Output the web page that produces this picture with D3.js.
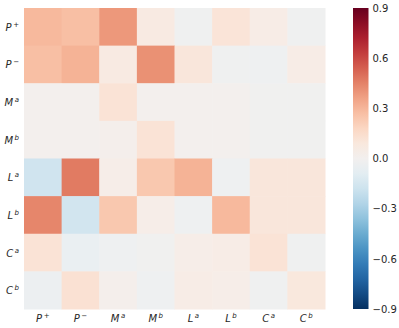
<!DOCTYPE html>
<html><head><meta charset="utf-8">
<script src="https://cdn.jsdelivr.net/npm/d3@7"></script>
<style>body{margin:0;background:#fff;} svg{display:block;}</style>
</head><body>
<svg id="c" width="399" height="328"></svg>
<script>
const labelBase = ["P","P","M","M","L","L","C","C"];
const labelSup = ["+","\u2212","a","b","a","b","a","b"];
const categories = ["P+","P-","Ma","Mb","La","Lb","Ca","Cb"];
const rowPp = [0.29, 0.27, 0.39, 0.07, -0.02, 0.11, 0.05, -0.02];
const rowPm = [0.27, 0.31, 0.07, 0.41, 0.10, -0.02, -0.03, 0.05];
const rowMa = [0.01, 0.01, 0.12, 0.01, 0.01, 0.01, -0.01, -0.01];
const rowMb = [0.01, 0.01, 0.02, 0.12, 0.01, 0.01, -0.01, -0.01];
const rowLa = [-0.17, 0.47, 0.04, 0.24, 0.31, -0.03, 0.10, 0.10];
const rowLb = [0.44, -0.16, 0.24, 0.04, -0.03, 0.29, 0.10, 0.10];
const rowCa = [0.12, -0.05, -0.03, -0.01, 0.04, 0.05, 0.12, -0.02];
const rowCb = [-0.04, 0.13, 0.02, -0.03, 0.05, 0.04, -0.02, 0.09];
const rows = [rowPp,rowPm,rowMa,rowMb,rowLa,rowLb,rowCa,rowCb];
const cbTicks = [0.9,0.6,0.3,0.0,-0.3,-0.6,-0.9];
const vmin=-0.9, vmax=0.9;

(function(){
const svg = d3.select("#c");
const left=24, topY=8, size=301;
const x = d3.scaleBand().domain(categories).range([left,left+size]);
const y = d3.scaleBand().domain(categories).range([topY,topY+size]);
const color = v => d3.interpolateRdBu(1-(v-vmin)/(vmax-vmin));

const cells=[];
rows.forEach((r,i)=>r.forEach((v,j)=>cells.push({r:categories[i],c:categories[j],v})));
svg.append("g").selectAll("rect").data(cells).join("rect")
  .attr("x",d=>x(d.c)).attr("y",d=>y(d.r))
  .attr("width",x.bandwidth()+0.5).attr("height",y.bandwidth()+0.5)
  .attr("fill",d=>color(d.v));

function lab(sel){
  sel.each(function(d,i){
    const t=d3.select(this);
    t.append("tspan").text(labelBase[i]);
    t.append("tspan").attr("dy",-4).attr("font-size",7).attr("dx",1.5).text(labelSup[i]);
  });
}
const fontFam="DejaVu Sans";
svg.append("g").selectAll("text").data(categories).join("text")
  .attr("x",d=>x(d)+x.bandwidth()/2).attr("y",322)
  .attr("text-anchor","middle").attr("font-family",fontFam).attr("font-style","italic")
  .attr("font-size",10).attr("fill","#262626").call(lab);
svg.append("g").selectAll("text").data(categories).join("text")
  .attr("x",19).attr("y",d=>y(d)+y.bandwidth()/2+4)
  .attr("text-anchor","end").attr("font-family",fontFam).attr("font-style","italic")
  .attr("font-size",10).attr("fill","#262626").call(lab);

const cbx=353, cbw=15.5;
const cy = d3.scaleLinear().domain([vmax,vmin]).range([topY,topY+size]);
const defs=svg.append("defs");
const grad=defs.append("linearGradient").attr("id","g").attr("x1",0).attr("y1",1).attr("x2",0).attr("y2",0);
d3.range(0,1.0001,0.05).forEach(t=>grad.append("stop").attr("offset",t).attr("stop-color",color(vmin+t*(vmax-vmin))));
svg.append("rect").attr("x",cbx).attr("y",topY).attr("width",cbw).attr("height",size).attr("fill","url(#g)");
const ax = d3.axisRight(cy).tickValues(cbTicks).tickSize(0).tickPadding(4)
  .tickFormat(d=>d3.format(".1f")(d).replace("-","\u2212"));
const ag = svg.append("g").attr("transform",`translate(${cbx+cbw},0)`).call(ax);
ag.select(".domain").remove();
ag.selectAll("text").attr("font-family",fontFam).attr("font-size",10).attr("fill","#262626");
})();
</script>
</body></html>
